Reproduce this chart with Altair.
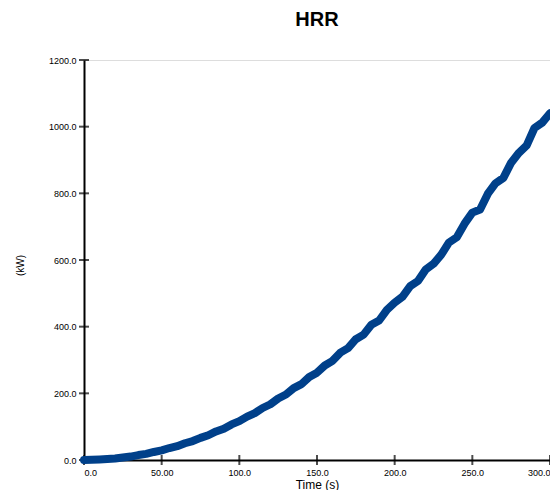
import altair as alt
import pandas as pd

time_s = [0, 5, 10, 15, 20, 25, 30, 35, 40, 45, 50, 55, 60, 65, 70, 75, 80, 85, 90, 95,
          100, 105, 110, 115, 120, 125, 130, 135, 140, 145, 150, 155, 160, 165, 170, 175,
          180, 185, 190, 195, 200, 205, 210, 215, 220, 225, 230, 235, 240, 245, 250, 255,
          260, 265, 270, 275, 280, 285, 290, 295, 300]
hrr_kw = [0.0, 0.5, 1.4, 2.8, 4.5, 7.6, 10.2, 14.8, 18.4, 24.1, 29.0, 35.9, 41.6, 50.2, 56.8,
          66.4, 74.2, 85.6, 94.0, 106.8, 116.5, 130.2, 140.8, 156.0, 167.2, 184.6, 196.4,
          215.8, 227.6, 249.0, 262.0, 283.5, 297.4, 322.0, 335.6, 362.4, 376.2, 405.8, 418.5,
          450.2, 472.0, 489.6, 521.5, 537.0, 571.8, 588.4, 616.0, 652.6, 668.2, 709.0, 742.0,
          751.5, 799.0, 830.4, 846.2, 892.0, 921.5, 944.0, 996.0, 1012.0, 1040.0]

y_ticks = [0, 200, 400, 600, 800, 1000, 1200]
x_ticks = [0, 50, 100, 150, 200, 250, 300]

df = pd.DataFrame({"t": time_s, "hrr": hrr_kw})
ydf = pd.DataFrame({"v": y_ticks})
xdf = pd.DataFrame({"v": x_ticks})

W, H = 466, 400
font = "Liberation Sans"

xscale = alt.Scale(domain=[0, 300], nice=False, zero=True)
yscale = alt.Scale(domain=[0, 1200], nice=False, zero=True)

line = alt.Chart(df).mark_line(
    color="#00408a", strokeWidth=8, strokeCap="round", strokeJoin="round"
).encode(
    x=alt.X("t:Q", scale=xscale, axis=alt.Axis(
        title="Time (s)", values=x_ticks, ticks=False, grid=False,
        domainColor="black", domainWidth=2, labelFont=font, labelFontSize=9,
        labelColor="black", labelPadding=8,
        labelExpr="datum.value == 50 ? '50.00' : format(datum.value, '.1f')",
        titleFont=font, titleFontSize=12, titleFontWeight="normal", titleColor="black",
        titlePadding=2)),
    y=alt.Y("hrr:Q", scale=yscale, axis=alt.Axis(
        title="(kW)", values=y_ticks, ticks=False, grid=False, format=".1f",
        domainColor="black", domainWidth=2, labelFont=font, labelFontSize=9,
        labelColor="black", labelPadding=8,
        titleFont=font, titleFontSize=10, titleFontWeight="normal", titleColor="black",
        titleX=-64, titleY=205, titleAlign="center", titleBaseline="middle")),
)

yt = alt.Chart(ydf).mark_tick(color="black", thickness=2, size=10).encode(
    y=alt.Y("v:Q", scale=yscale), x=alt.value(0))
xt = alt.Chart(xdf).mark_tick(color="black", thickness=2, size=10).encode(
    x=alt.X("v:Q", scale=xscale), y=alt.value(H))

chart = alt.layer(yt, xt, line).properties(
    width=W, height=H,
    title=alt.TitleParams("HRR", font=font, fontSize=20, fontWeight="bold",
                          color="black", offset=26),
    autosize=alt.AutoSizeParams(type="none"),
    padding={"left": 76, "top": 52, "right": 0, "bottom": 30},
).configure_view(stroke=None).configure(background="white")

chart.save("out.html", embed_options={"renderer": "svg", "actions": False})
